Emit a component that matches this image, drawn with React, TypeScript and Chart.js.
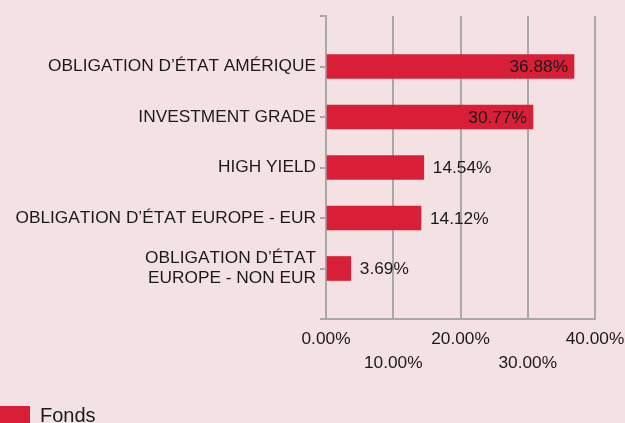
import React, { useEffect, useRef } from "react";
import { Chart, registerables } from "chart.js";

Chart.register(...registerables);

const categories: (string | string[])[] = [
  "OBLIGATION D’ÉTAT AMÉRIQUE",
  "INVESTMENT GRADE",
  "HIGH YIELD",
  "OBLIGATION D’ÉTAT EUROPE - EUR",
  ["OBLIGATION D’ÉTAT", "EUROPE - NON EUR"],
];
const fondsValues: number[] = [36.88, 30.77, 14.54, 14.12, 3.69];
const xTicks: number[] = [0, 10, 20, 30, 40];
const seriesName = "Fonds";

const BG = "#f4e1e4";
const RED = "#d81f37";
const GRID = "#a8a8a8";
const TEXT = "#1a1a1a";
const FONT = "Arial, 'Liberation Sans', sans-serif";

const bgPlugin = {
  id: "bgFill",
  beforeDraw(chart: any) {
    const { ctx, width, height } = chart;
    ctx.save();
    ctx.fillStyle = BG;
    ctx.fillRect(0, 0, width, height);
    ctx.restore();
    try {
      ctx.fontKerning = "none";
    } catch (e) {}
  },
};

const labelPlugin = {
  id: "valueLabels",
  afterDatasetsDraw(chart: any) {
    const { ctx } = chart;
    const meta = chart.getDatasetMeta(0);
    const data = chart.data.datasets[0].data;
    ctx.save();
    ctx.font = `17.3px ${FONT}`;
    ctx.fillStyle = TEXT;
    ctx.textBaseline = "middle";
    meta.data.forEach((bar: any, i: number) => {
      const v = data[i];
      if (v == null) return;
      const txt = v.toFixed(2) + "%";
      if (v > 20) {
        ctx.textAlign = "right";
        ctx.fillText(txt, bar.x - 6, bar.y + 1);
      } else {
        ctx.textAlign = "left";
        ctx.fillText(txt, bar.x + 9, bar.y + 1);
      }
    });
    ctx.restore();
  },
};

export default function App() {
  const ref = useRef<HTMLCanvasElement | null>(null);

  useEffect(() => {
    document.body.style.margin = "0";
    document.body.style.background = BG;
    const labels = ["", ...categories, ""];
    const values = [null, ...fondsValues, null];
    const chart = new Chart(ref.current!, {
      type: "bar",
      data: {
        labels,
        datasets: [
          {
            label: seriesName,
            data: values as any,
            backgroundColor: RED,
            borderWidth: 0,
            barThickness: 24,
          },
        ],
      },
      options: {
        indexAxis: "y",
        responsive: false,
        animation: false,
        devicePixelRatio: 1,
        layout: { padding: { top: 16, right: 30, left: 0, bottom: 0 } },
        scales: {
          y: {
            type: "category",
            offset: false,
            grid: {
              display: true,
              offset: false,
              drawOnChartArea: false,
              drawTicks: true,
              tickLength: 6,
              color: GRID,
              lineWidth: 2,
            },
            border: { display: true, color: GRID, width: 2 },
            ticks: {
              color: TEXT,
              padding: 4,
              autoSkip: false,
              font: { family: FONT, size: 17.3, lineHeight: 1.15 },
            },
            afterFit(scale: any) {
              scale.width = 326;
              scale.paddingTop = 0;
              scale.paddingBottom = 0;
            },
          },
          x: {
            type: "linear",
            min: 0,
            max: 40,
            grid: {
              color: GRID,
              lineWidth: 2,
              drawTicks: false,
            },
            border: { display: true, color: GRID, width: 2 },
            ticks: {
              stepSize: 10,
              autoSkip: false,
              maxRotation: 0,
              color: TEXT,
              padding: 8,
              font: { family: FONT, size: 17.3, lineHeight: 1.4 },
              callback: (value: any, index: number) => {
                const t = Number(value).toFixed(2) + "%";
                return index % 2 === 1 ? ["", t] : t;
              },
            },
            afterBuildTicks(scale: any) {
              scale.ticks = xTicks.map((v) => ({ value: v }));
            },
            afterFit(scale: any) {
              scale.height = 87;
              scale.paddingLeft = 0;
              scale.paddingRight = 0;
            },
          },
        },
        plugins: {
          legend: {
            display: true,
            position: "bottom",
            align: "start",
            labels: {
              boxWidth: 30,
              boxHeight: 20,
              padding: 0,
              color: TEXT,
              font: { family: FONT, size: 20 },
            },
          },
          tooltip: { enabled: false },
        },
      },
      plugins: [bgPlugin, labelPlugin],
    });
    return () => chart.destroy();
  }, []);

  return (
    <div style={{ width: 625, height: 423, overflow: "hidden", background: BG }}>
      <canvas ref={ref} width={625} height={436} style={{ display: "block" }} />
    </div>
  );
}
